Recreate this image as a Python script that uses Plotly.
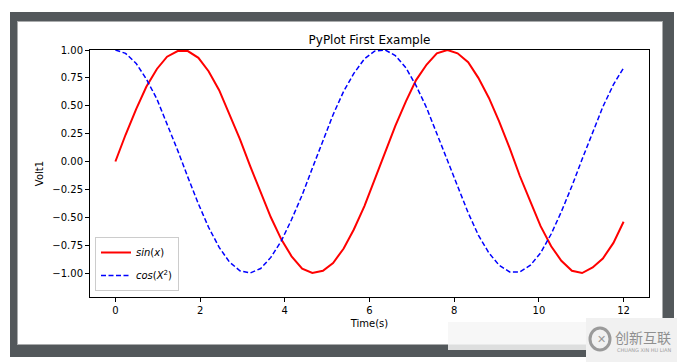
import plotly.graph_objects as go

# ---- data ----
time_s = [0.00, 0.24, 0.49, 0.73, 0.98, 1.22, 1.47, 1.71, 1.96, 2.20,
          2.45, 2.69, 2.94, 3.18, 3.43, 3.67, 3.92, 4.16, 4.41, 4.65,
          4.90, 5.14, 5.39, 5.63, 5.88, 6.12, 6.37, 6.61, 6.86, 7.10,
          7.35, 7.59, 7.84, 8.08, 8.33, 8.57, 8.82, 9.06, 9.31, 9.55,
          9.80, 10.04, 10.29, 10.53, 10.78, 11.02, 11.27, 11.51, 11.76, 12.00]

sin_vals = [0.00, 0.24, 0.47, 0.67, 0.83, 0.94, 0.99, 0.99, 0.93, 0.81,
            0.64, 0.43, 0.20, -0.04, -0.28, -0.50, -0.70, -0.85, -0.96, -1.00,
            -0.98, -0.91, -0.78, -0.61, -0.40, -0.16, 0.08, 0.32, 0.54, 0.73,
            0.87, 0.97, 1.00, 0.97, 0.89, 0.75, 0.57, 0.36, 0.12, -0.13,
            -0.36, -0.58, -0.76, -0.89, -0.98, -1.00, -0.95, -0.87, -0.73, -0.54]

cos_vals = [1.00, 0.97, 0.88, 0.74, 0.56, 0.34, 0.10, -0.14, -0.38, -0.59,
            -0.77, -0.90, -0.98, -1.00, -0.96, -0.86, -0.71, -0.52, -0.30, -0.06,
            0.19, 0.42, 0.63, 0.79, 0.92, 0.99, 1.00, 0.95, 0.84, 0.68,
            0.48, 0.25, 0.01, -0.23, -0.46, -0.66, -0.82, -0.93, -0.99, -0.99,
            -0.93, -0.82, -0.65, -0.45, -0.22, 0.02, 0.26, 0.49, 0.69, 0.84]

x_ticks = [0, 2, 4, 6, 8, 10, 12]
y_ticks = [1.00, 0.75, 0.50, 0.25, 0.00, -0.25, -0.50, -0.75, -1.00]
y_tick_text = ["1.00", "0.75", "0.50", "0.25", "0.00", "\u22120.25", "\u22120.50", "\u22120.75", "\u22121.00"]

title_text = "PyPlot First Example"
x_title = "Time(s)"
y_title = "Volt1"
sin_label = "<i>sin</i>(<i>x</i>)"
cos_label = "<i>cos</i>(<i>X</i><sup>2</sup>)"

# ---- geometry, in window pixels (page body has an 8px margin) ----
OFF = 8
WIN_W, WIN_H = 685, 362
W, H = WIN_W - OFF, WIN_H - OFF
L, R, T, B = 90, 649, 50, 297
pw, ph = R - L, B - T

def px(x):
    return (x - L) / pw

def py(y):
    return (B - y) / ph

FONT = "DejaVu Sans"

fig = go.Figure()
fig.add_trace(go.Scatter(x=time_s, y=sin_vals, mode="lines", name=sin_label,
                         legendgroup="a",
                         line=dict(color="#ff0000", width=2)))
fig.add_trace(go.Scatter(x=time_s, y=cos_vals, mode="lines", name=cos_label,
                         legendgroup="b",
                         line=dict(color="#0000ff", width=1.5, dash="5px,2.5px")))

shapes = [
    dict(type="rect", xref="paper", yref="paper", layer="below",
         x0=px(10), x1=px(674), y0=py(12), y1=py(357),
         fillcolor="#53585b", line=dict(width=0)),
    dict(type="rect", xref="paper", yref="paper", layer="below",
         x0=px(17), x1=px(663), y0=py(21), y1=py(345),
         fillcolor="#a9abac", line=dict(width=0)),
    dict(type="rect", xref="paper", yref="paper", layer="below",
         x0=px(18), x1=px(662), y0=py(22), y1=py(344),
         fillcolor="#ffffff", line=dict(width=0)),
    dict(type="rect", xref="paper", yref="paper", layer="above",
         x0=px(448), x1=px(588), y0=py(322), y1=py(350),
         fillcolor="rgba(246,246,246,0.85)", line=dict(width=0)),
    dict(type="rect", xref="paper", yref="paper", layer="above",
         x0=px(586), x1=px(685), y0=py(318), y1=py(362),
         fillcolor="#f1f1f1", line=dict(width=0)),
    dict(type="circle", xref="paper", yref="paper", layer="above",
         x0=px(590), x1=px(610), y0=py(328), y1=py(350),
         fillcolor="rgba(0,0,0,0)", line=dict(color="#9a9a9a", width=3)),
]

annotations = [
    dict(text="\u521b\u65b0\u4e92\u8054", xref="paper", yref="paper",
         x=px(613), y=py(337), xanchor="left", yanchor="middle", showarrow=False,
         font=dict(family="Noto Sans CJK SC", size=14, color="#8f8f8f")),
    dict(text="CHUANG XIN HU LIAN", xref="paper", yref="paper",
         x=px(615), y=py(350), xanchor="left", yanchor="middle", showarrow=False,
         font=dict(family=FONT, size=5, color="#a0a0a0")),
    dict(text="\u2715", xref="paper", yref="paper",
         x=px(601), y=py(339), xanchor="center", yanchor="middle", showarrow=False,
         font=dict(family=FONT, size=11, color="#9a9a9a")),
]

fig.update_layout(
    width=W, height=H,
    margin=dict(l=L - OFF, r=WIN_W - R, t=T - OFF, b=WIN_H - B, pad=0),
    paper_bgcolor="#ffffff", plot_bgcolor="#ffffff",
    font=dict(family=FONT, size=10, color="#000000"),
    title=dict(text=title_text, x=(L + pw / 2 - OFF) / W, xanchor="center",
               y=1 - (40 - OFF) / H, yanchor="middle",
               font=dict(family=FONT, size=12, color="#000000")),
    showlegend=True,
    legend=dict(x=px(95), y=py(291), xanchor="left", yanchor="bottom",
                bgcolor="rgba(255,255,255,0.8)", bordercolor="#cccccc", borderwidth=1,
                font=dict(family=FONT, size=10, color="#000000"),
                tracegroupgap=4, itemwidth=30),
    shapes=shapes,
    annotations=annotations,
    hovermode=False,
)

fig.update_xaxes(range=[-0.6, 12.6], tickmode="array", tickvals=x_ticks,
                 ticktext=[str(v) for v in x_ticks],
                 showgrid=False, zeroline=False, showline=True, mirror=True,
                 linecolor="#000000", linewidth=1, ticks="outside", ticklen=4,
                 tickcolor="#000000", tickfont=dict(size=10),
                 title=dict(text=x_title, font=dict(size=10), standoff=4))
fig.update_yaxes(range=[-1.215, 1.0], tickmode="array", tickvals=y_ticks,
                 ticktext=y_tick_text,
                 showgrid=False, zeroline=False, showline=True, mirror=True,
                 linecolor="#000000", linewidth=1, ticks="outside", ticklen=4,
                 tickcolor="#000000", tickfont=dict(size=10),
                 title=dict(text=y_title, font=dict(size=10), standoff=6))

fig.write_html("out.html", config={"displayModeBar": False, "staticPlot": True})
